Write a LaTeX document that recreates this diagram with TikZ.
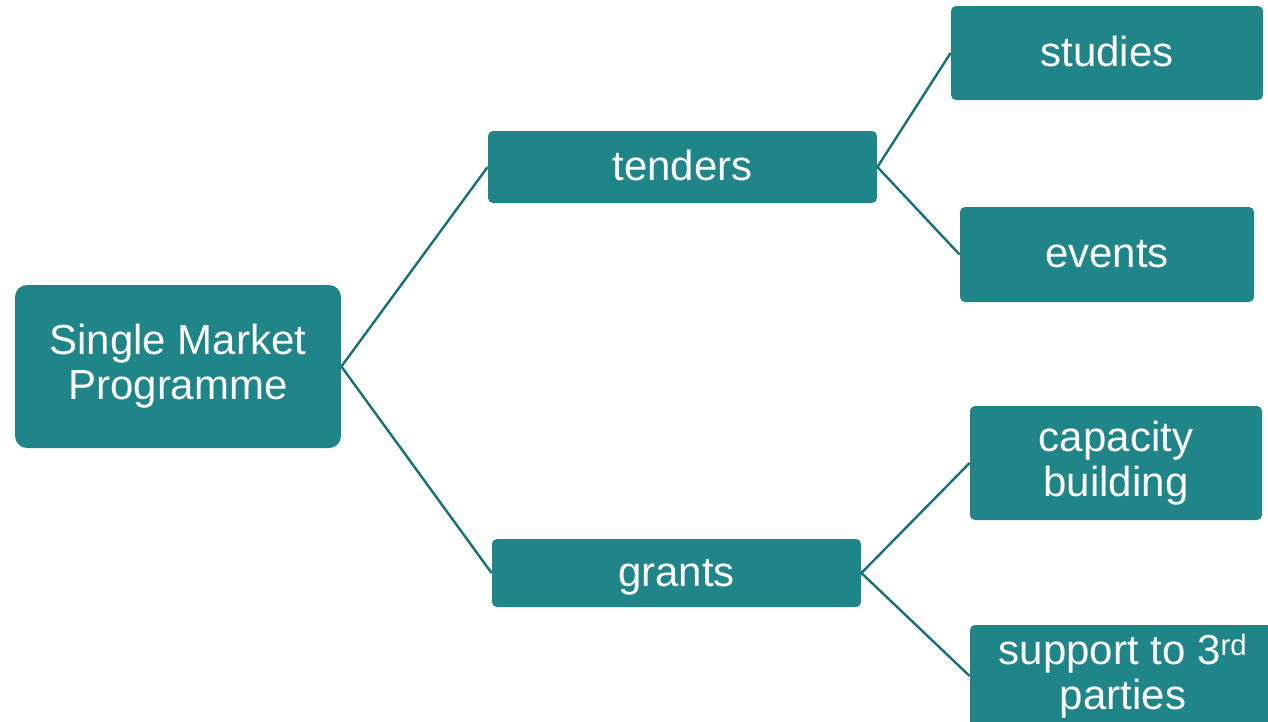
\documentclass[tikz,border=0pt]{standalone}
\usepackage{fontspec}
\setmainfont{Liberation Sans}
\usetikzlibrary{positioning}
\definecolor{smpteal}{RGB}{31,133,137}
\definecolor{smpline}{RGB}{24,112,116}

\begin{document}
\begin{tikzpicture}[x=1pt, y=-1pt, thick]

		% Define styles
		\tikzstyle{branch} = [rectangle, rounded corners=5pt, fill=smpteal, text=white, inner sep=0pt, font=\fontsize{42}{45}\selectfont]
		\tikzstyle{oneline} = [branch, text height=30pt, text depth=4pt]
		\tikzstyle{twoline} = [branch, align=center]
		\tikzstyle{root} = [twoline, rounded corners=12pt, minimum width=326pt, minimum height=163pt]
		\tikzstyle{link} = [draw=smpline, line width=2.4pt]

		\useasboundingbox (0,0) rectangle (1268,721);

		% Nodes
		\node[root] (smp) at (178,366.5) {Single Market\\Programme};
		\node[oneline, minimum width=389pt, minimum height=72pt] (tenders) at (682.5,167) {tenders};
		\node[oneline, minimum width=369pt, minimum height=68pt] (grants) at (676.5,573) {grants};

		% Leaves
		\node[oneline, minimum width=312pt, minimum height=94pt] (studies) at (1107,53) {studies};
		\node[oneline, minimum width=294pt, minimum height=95pt] (events) at (1107,254.5) {events};
		\node[twoline, minimum width=292pt, minimum height=114pt] (capacity) at (1116,463) {capacity\\building};
		\node[twoline, minimum width=306pt, minimum height=102pt] (support) at (1123,676) {support to 3\textsuperscript{rd}\\parties};

		% Connectors
		\draw[link] (smp.east) -- (tenders.west);
		\draw[link] (smp.east) -- (grants.west);
		\draw[link] (tenders.east) -- (studies.west);
		\draw[link] (tenders.east) -- (events.west);
		\draw[link] (grants.east) -- (capacity.west);
		\draw[link] (grants.east) -- (support.west);

	\end{tikzpicture}
\end{document}
